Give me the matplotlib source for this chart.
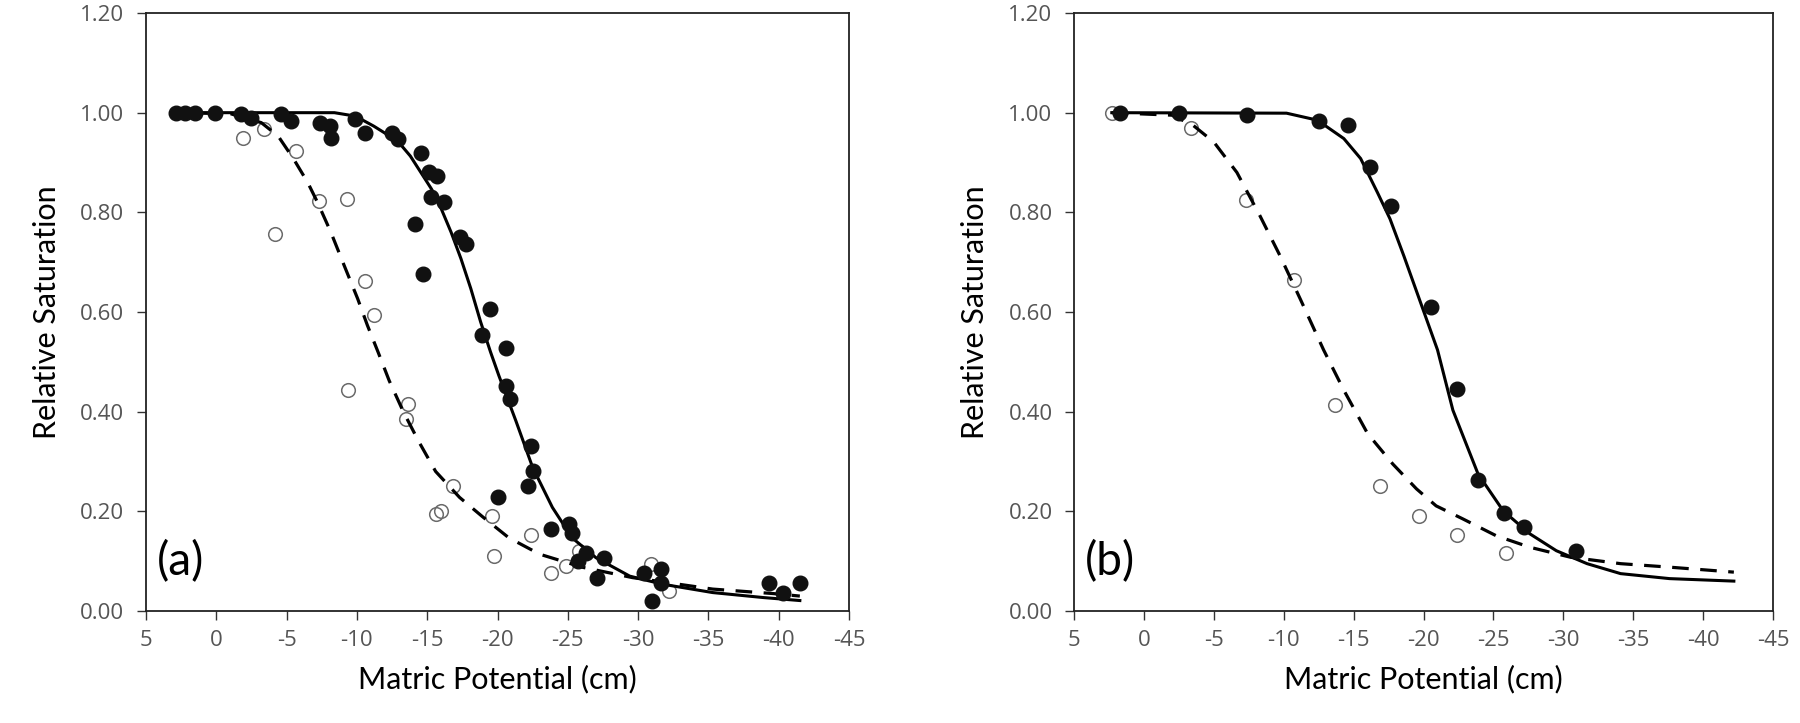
"""Relative saturation vs matric potential, panels (a) and (b)"""

import matplotlib
matplotlib.use("Agg")
import matplotlib.pyplot as plt

# ---- panel (a) measured points ----
a_fill_x = [2.9, 2.2, 1.5, 0.1, -1.75, -2.5, -4.6, -5.3, -7.4, -8.1, -8.15, -9.9,
            -10.6, -12.5, -12.9, -14.55, -15.1, -15.7, -15.3, -16.2, -14.1, -17.3,
            -17.75, -14.7, -19.5, -18.9, -20.6, -20.6, -20.9, -22.4, -22.5, -22.2,
            -20.0, -23.8, -25.1, -25.3, -26.3, -25.7, -27.6, -27.1, -30.4, -31.6,
            -31.6, -31.0, -39.3, -40.3, -41.5]
a_fill_y = [1.0, 1.0, 1.0, 1.0, 0.997, 0.99, 0.997, 0.983, 0.98, 0.973, 0.95, 0.987,
            0.96, 0.96, 0.947, 0.92, 0.88, 0.873, 0.83, 0.82, 0.777, 0.75,
            0.737, 0.677, 0.607, 0.553, 0.527, 0.452, 0.425, 0.332, 0.281, 0.251,
            0.229, 0.165, 0.174, 0.157, 0.117, 0.10, 0.107, 0.067, 0.077, 0.084,
            0.057, 0.02, 0.057, 0.037, 0.057]

a_open_x = [-1.87, -3.4, -5.66, -4.2, -7.3, -9.3, -10.6, -11.2, -9.4, -13.6, -13.5,
            -16.8, -15.6, -15.95, -19.6, -19.75, -22.4, -23.8, -24.9, -25.8, -30.9, -32.2]
a_open_y = [0.95, 0.967, 0.923, 0.757, 0.823, 0.827, 0.662, 0.593, 0.443, 0.415, 0.385,
            0.251, 0.194, 0.20, 0.191, 0.11, 0.152, 0.077, 0.09, 0.12, 0.094, 0.04]

# fitted curves
a_solid_x = [3.0, -4.0, -8.4, -9.9, -11.2, -12.9, -13.8, -14.55, -15.3, -16.0, -16.7,
             -17.4, -18.1, -18.8, -19.5, -20.1, -21.3, -22.5, -23.9, -25.3, -27.0,
             -29.4, -31.7, -35.3, -38.9, -41.5]
a_solid_y = [1.0, 1.0, 1.0, 0.993, 0.973, 0.943, 0.913, 0.88, 0.847, 0.807, 0.76,
             0.707, 0.647, 0.58, 0.52, 0.472, 0.382, 0.288, 0.208, 0.147, 0.107,
             0.07, 0.054, 0.037, 0.027, 0.021]

a_dash_x = [3.0, -1.0, -3.2, -4.4, -5.5, -6.5, -7.2, -8.15, -9.1, -10.05, -10.75,
            -11.5, -12.3, -13.3, -14.4, -15.6, -17.3, -18.9, -20.8, -23.0, -26.0,
            -29.6, -35.3, -39.6, -41.5]
a_dash_y = [1.0, 0.998, 0.98, 0.953, 0.907, 0.86, 0.82, 0.76, 0.693, 0.627, 0.573,
            0.52, 0.462, 0.40, 0.34, 0.28, 0.228, 0.19, 0.147, 0.114, 0.088,
            0.067, 0.044, 0.035, 0.03]

# ---- panel (b) measured points ----
b_fill_x = [1.7, -2.5, -7.4, -12.5, -14.6, -16.2, -17.7, -20.5, -22.4, -23.9, -25.75, -27.2, -30.9]
b_fill_y = [1.0, 1.0, 0.995, 0.983, 0.976, 0.891, 0.813, 0.61, 0.445, 0.263, 0.196, 0.169, 0.121]

b_open_x = [2.3, -3.4, -7.3, -10.7, -13.7, -16.9, -19.7, -22.4, -25.9]
b_open_y = [1.0, 0.97, 0.824, 0.665, 0.413, 0.251, 0.191, 0.153, 0.116]

b_solid_x = [2.3, -10.2, -12.4, -14.3, -15.5, -16.7, -17.6, -18.6, -19.8, -21.0, -22.1,
             -23.9, -25.7, -27.6, -29.5, -31.7, -34.1, -37.6, -42.2]
b_solid_y = [1.0, 0.999, 0.985, 0.948, 0.908, 0.84, 0.787, 0.712, 0.618, 0.524, 0.403,
             0.275, 0.201, 0.155, 0.121, 0.095, 0.075, 0.065, 0.06]

b_dash_x = [2.3, -2.0, -3.5, -5.0, -6.65, -8.3, -9.75, -11.2, -12.85, -14.3, -16.0,
            -17.8, -19.5, -20.9, -22.8, -25.2, -27.6, -30.5, -34.1, -37.6, -42.2]
b_dash_y = [1.0, 0.995, 0.975, 0.941, 0.88, 0.793, 0.712, 0.625, 0.524, 0.443, 0.356,
            0.295, 0.245, 0.211, 0.185, 0.151, 0.128, 0.108, 0.095, 0.088, 0.078]

x_ticks = [5, 0, -5, -10, -15, -20, -25, -30, -35, -40, -45]
y_ticks = [0.0, 0.2, 0.4, 0.6, 0.8, 1.0, 1.2]

LABEL_FONT = ["Lato", "DejaVu Sans"]
TICK_FONT = ["Open Sans", "DejaVu Sans"]


def draw_panel(ax, fx, fy, ox, oy, sx, sy, dx, dy, tag):
    ax.plot(ox, oy, "o", ms=9.8, mfc="none", mec="#6a6a6a", mew=1.1, zorder=2)
    ax.plot(sx, sy, "-", color="black", lw=2.2, zorder=3)
    ax.plot(dx, dy, "--", color="black", lw=2.3, dashes=(5.2, 3.6), zorder=3)
    ax.plot(fx, fy, "o", ms=10.5, color="#111111", zorder=4)

    ax.set_xlim(5, -45)
    ax.set_ylim(0, 1.2)
    ax.set_xticks(x_ticks)
    ax.set_xticklabels([str(t) for t in x_ticks])
    ax.set_yticks(y_ticks)
    ax.set_yticklabels(["%.2f" % t for t in y_ticks])
    ax.tick_params(direction="out", length=6.5, width=1.0, color="#333333",
                   labelsize=16, labelcolor="#555555")
    ax.tick_params(axis="y", pad=9)
    ax.tick_params(axis="x", pad=7)
    for lab in ax.get_xticklabels() + ax.get_yticklabels():
        lab.set_family(TICK_FONT)
    for sp in ax.spines.values():
        sp.set_linewidth(1.3)
        sp.set_color("#222222")

    ax.set_xlabel("Matric Potential (cm)", fontsize=22, family=LABEL_FONT, labelpad=10)
    ax.set_ylabel("Relative Saturation", fontsize=22, family=LABEL_FONT, labelpad=14)
    ax.text(4.2, 0.10, tag, fontsize=33, family=LABEL_FONT, ha="left", va="center")


def main():
    fig = plt.figure(figsize=(18, 7.23), dpi=100)
    ax_a = fig.add_axes([0.0811, 0.1549, 0.3906, 0.8271])
    ax_b = fig.add_axes([0.5967, 0.1549, 0.3883, 0.8271])

    draw_panel(ax_a, a_fill_x, a_fill_y, a_open_x, a_open_y,
               a_solid_x, a_solid_y, a_dash_x, a_dash_y, "(a)")
    draw_panel(ax_b, b_fill_x, b_fill_y, b_open_x, b_open_y,
               b_solid_x, b_solid_y, b_dash_x, b_dash_y, "(b)")

    fig.savefig("out.png", dpi=100)


if __name__ == "__main__":
    main()
